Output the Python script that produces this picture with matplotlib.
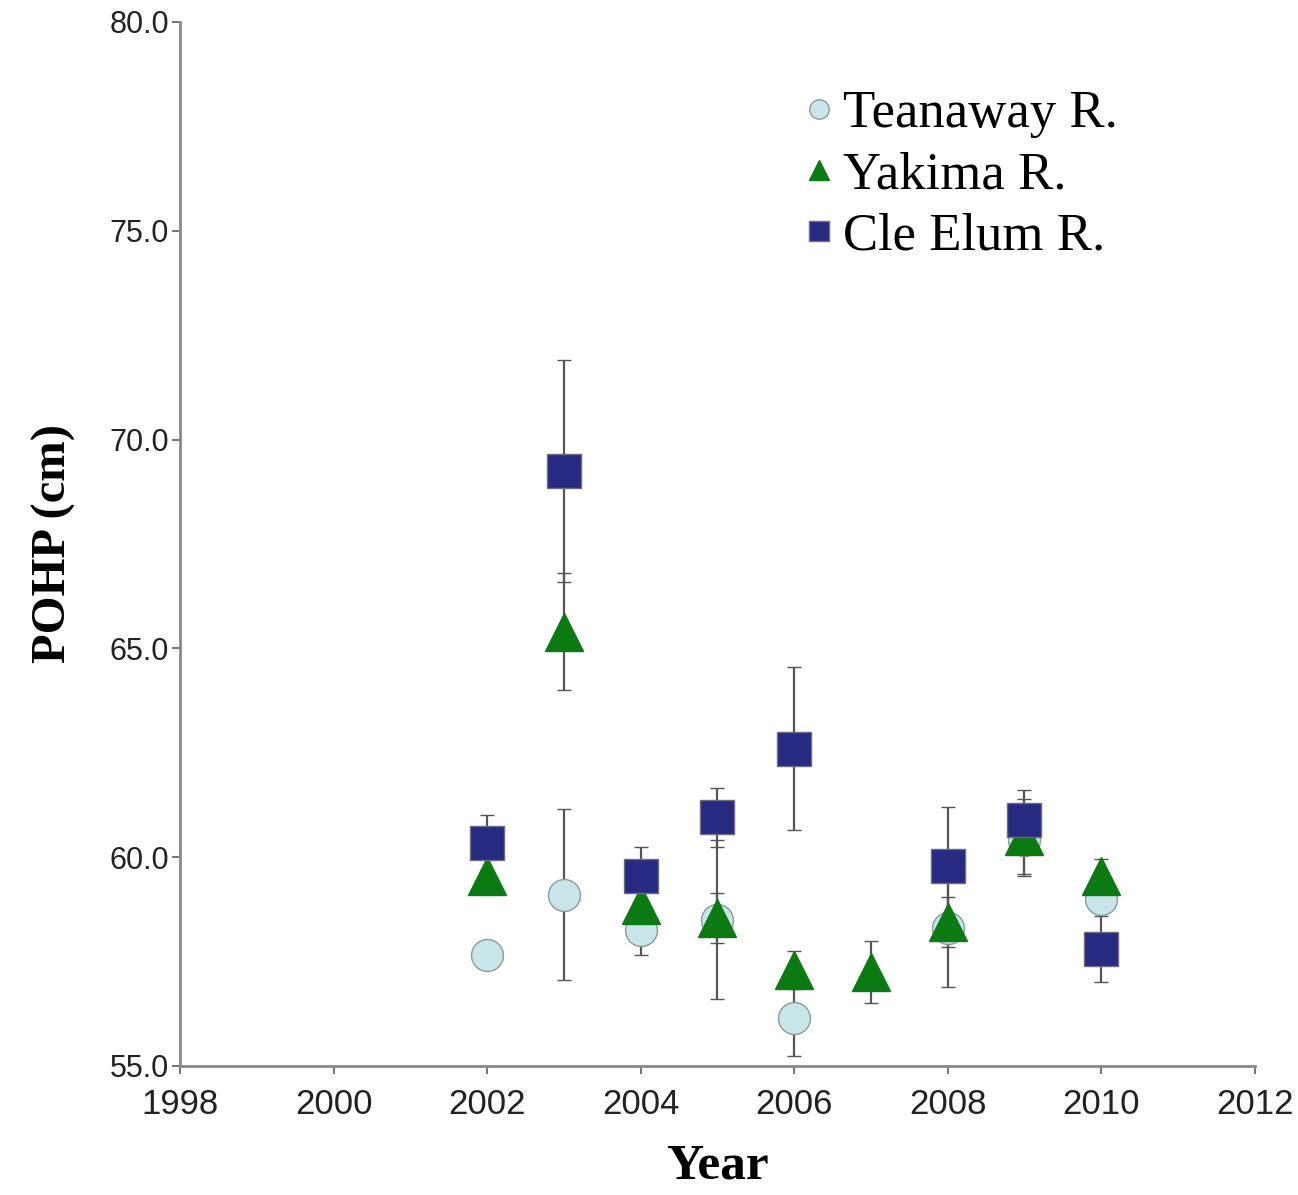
import matplotlib
matplotlib.use("Agg")
import matplotlib.pyplot as plt
from matplotlib.lines import Line2D

# Teanaway R. (circles)
tea_years = [2002, 2003, 2004, 2005, 2006, 2008, 2009, 2010]
tea_vals = [57.65, 59.1, 58.25, 58.5, 56.15, 58.3, 60.4, 59.0]
tea_err = [0.3, 2.05, 0.6, 1.9, 0.9, 1.4, 0.85, 0.3]

# Yakima R. (triangles)
yak_years = [2002, 2003, 2004, 2005, 2006, 2007, 2008, 2009, 2010]
yak_vals = [59.55, 65.4, 58.85, 58.55, 57.3, 57.25, 58.45, 60.5, 59.55]
yak_err = [0.4, 1.4, 0.5, 0.6, 0.45, 0.75, 0.6, 0.9, 0.4]

# Cle Elum R. (squares)
cle_years = [2002, 2003, 2004, 2005, 2006, 2008, 2009, 2010]
cle_vals = [60.35, 69.25, 59.55, 60.95, 62.6, 59.8, 60.9, 57.8]
cle_err = [0.65, 2.65, 0.7, 0.7, 1.95, 1.4, 0.7, 0.8]

labels = ["Teanaway R.", "Yakima R.", "Cle Elum R."]
xticks = [1998, 2000, 2002, 2004, 2006, 2008, 2010, 2012]
yticks = [55, 60, 65, 70, 75, 80]

fig = plt.figure(figsize=(12.98, 11.95), dpi=100)
ax = fig.add_axes([0.1387, 0.108, 0.828, 0.8736])

ebar = dict(ecolor="#555555", elinewidth=1.6, capsize=5, capthick=1.6, linestyle="none")

ax.errorbar(tea_years, tea_vals, yerr=tea_err, fmt="o", ms=23,
            mfc="#c8e6e9", mec="#8a9a9c", mew=1.0, **ebar)
ax.errorbar(yak_years, yak_vals, yerr=yak_err, fmt="^", ms=27,
            mfc="#0b7a12", mec="#0b7a12", mew=1.0, **ebar)
ax.errorbar(cle_years, cle_vals, yerr=cle_err, fmt="s", ms=24,
            mfc="#262a80", mec="#6a6a80", mew=1.0, **ebar)

ax.set_xlim(1998, 2012)
ax.set_ylim(55, 80)
ax.set_xticks(xticks)
ax.set_yticks(yticks)
ax.set_yticklabels(["%.1f" % v for v in yticks])

for s in ["top", "right"]:
    ax.spines[s].set_visible(False)
for s in ["left", "bottom"]:
    ax.spines[s].set_color("#888888")
    ax.spines[s].set_linewidth(2.0)

ax.tick_params(axis="both", direction="out", length=6, width=1.5, color="#777777")
for lab in ax.get_xticklabels():
    lab.set_fontfamily("Liberation Sans")
    lab.set_fontsize(25)
    lab.set_color("#222222")
for lab in ax.get_yticklabels():
    lab.set_fontfamily("Liberation Sans")
    lab.set_fontsize(22)
    lab.set_color("#222222")
ax.tick_params(axis="x", pad=10)
ax.tick_params(axis="y", pad=2)

ax.set_xlabel("Year", fontfamily="Liberation Serif", fontweight="bold", fontsize=37, labelpad=16)
ax.set_ylabel("POHP (cm)", fontfamily="Liberation Serif", fontweight="bold", fontsize=35, labelpad=24)

handles = [
    Line2D([], [], marker="o", linestyle="none", ms=14, mfc="#c8e6e9", mec="#8a9a9c"),
    Line2D([], [], marker="^", linestyle="none", ms=15, mfc="#0b7a12", mec="#0b7a12"),
    Line2D([], [], marker="s", linestyle="none", ms=15, mfc="#262a80", mec="#6a6a80"),
]
ax.legend(handles, labels, loc="upper left", bbox_to_anchor=(0.56, 0.955), frameon=False,
          prop={"family": "Liberation Serif", "size": 38}, handlelength=0.6,
          handletextpad=0.15, labelspacing=0.25, borderaxespad=0)

fig.savefig("out.png", dpi=100)
